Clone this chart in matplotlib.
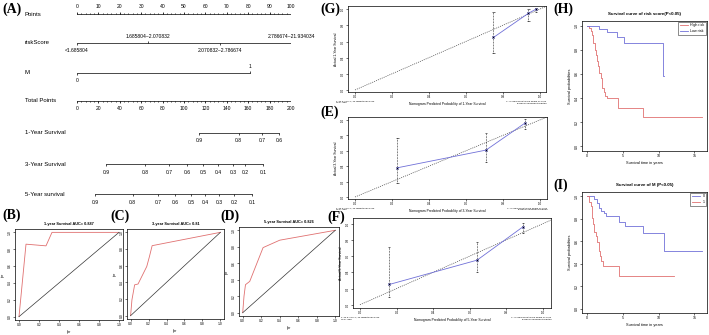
import matplotlib
matplotlib.use('Agg')
import matplotlib.pyplot as plt
import numpy as np

plt.rcParams['font.family'] = ['Liberation Sans', 'DejaVu Sans']

# ---- nomogram (A)
points_ticks = np.arange(0, 101, 10)
risk_levels = ['<1.685804', '1.685804~2.070832', '2.070832~2.786674', '2.786674~21.934034']
risk_points = [0, 33, 67, 100]
m_levels = ['0', '1']
m_points = [0, 81]
total_ticks = np.arange(0, 201, 20)
surv1_prob = [0.9, 0.8, 0.7, 0.6]
surv1_total = [114, 151, 173, 189]
surv3_prob = [0.9, 0.8, 0.7, 0.6, 0.5, 0.4, 0.3, 0.2, 0.1]
surv3_total = [27, 64, 86, 103, 118, 132, 146, 157, 174]
surv5_prob = [0.9, 0.8, 0.7, 0.6, 0.5, 0.4, 0.3, 0.2, 0.1]
surv5_total = [17, 52, 76, 92, 107, 120, 133, 147, 164]

# ---- ROC (B, C, D)
roc_titles = ['1-year Survival AUC= 0.887', '3-year Survival AUC= 0.81', '5-year Survival AUC= 0.826']
roc1_fpr = [0, 0.07, 0.27, 0.33, 1.0]
roc1_tpr = [0, 0.86, 0.84, 1.0, 1.0]
roc3_fpr = [0, 0.015, 0.045, 0.083, 0.18, 0.21, 0.24, 1.0]
roc3_tpr = [0, 0.19, 0.37, 0.38, 0.59, 0.71, 0.84, 1.0]
roc5_fpr = [0, 0.014, 0.03, 0.076, 0.22, 0.40, 1.0]
roc5_tpr = [0, 0.2, 0.34, 0.38, 0.79, 0.88, 1.0]

# ---- calibration (G, E, F)
cal1_pred = [0.75, 0.94, 0.98]
cal1_obs = [0.65, 0.95, 1.0]
cal1_lo = [0.46, 0.86, 0.97]
cal1_hi = [0.96, 1.0, 1.01]
cal3_pred = [0.23, 0.71, 0.92]
cal3_obs = [0.38, 0.61, 0.96]
cal3_lo = [0.18, 0.45, 0.88]
cal3_hi = [0.77, 0.83, 1.02]
cal5_pred = [0.16, 0.64, 0.89]
cal5_obs = [0.25, 0.55, 0.96]
cal5_lo = [0.10, 0.41, 0.89]
cal5_hi = [0.71, 0.77, 1.01]

# ---- Kaplan-Meier (H, I)
high_t = [0, 0.32, 0.56, 0.79, 0.93, 1.1, 1.25, 1.4, 1.57, 1.76, 1.94, 2.08, 2.2, 2.4, 2.6, 2.9, 4.4, 7.9, 16.1]
high_s = [1.0, 0.98, 0.96, 0.92, 0.86, 0.80, 0.76, 0.71, 0.67, 0.61, 0.57, 0.52, 0.48, 0.45, 0.42, 0.40, 0.32, 0.24, 0.24]
low_t = [0, 1.7, 2.9, 4.2, 5.2, 10.6, 10.8]
low_s = [1.0, 0.975, 0.95, 0.91, 0.86, 0.58, 0.58]
m0_t = [0, 1.07, 1.5, 1.77, 2.0, 2.4, 2.7, 4.5, 5.3, 7.9, 10.7, 16.1]
m0_s = [1.0, 0.976, 0.94, 0.90, 0.87, 0.85, 0.83, 0.77, 0.74, 0.67, 0.51, 0.51]
m1_t = [0, 0.28, 0.6, 0.74, 0.84, 1.07, 1.3, 1.44, 1.67, 1.86, 2.0, 2.23, 4.47, 12.1]
m1_s = [1.0, 0.955, 0.916, 0.81, 0.75, 0.68, 0.65, 0.59, 0.51, 0.47, 0.42, 0.38, 0.29, 0.29]

RED = '#e07070'
BLUE = '#7070d8'
W, H = 709, 335
fig = plt.figure(figsize=(W / 100, H / 100), dpi=100)


def box(l, t, r, b):
    return fig.add_axes([l / W, 1 - b / H, (r - l) / W, (b - t) / H])


def r_style(ax, fs=2.6):
    ax.tick_params(direction='out', length=1.5, width=0.4, labelsize=fs, pad=1)
    for s in ax.spines.values():
        s.set_linewidth(0.5)
    plt.setp(ax.get_yticklabels(), rotation=90, va='center')


def letter(x, y, s):
    fig.text(x / W, 1 - y / H, s, family='Liberation Serif', weight='bold',
             fontsize=10, va='center', ha='left')


# ---------------- (A) nomogram
nom = box(77, 0, 291, 210)
nom.set_xlim(0, 100)
nom.set_ylim(210, 0)
nom.axis('off')
lw = 0.5
fs = 3.6
lab_x = -24.3
kw = dict(color='black', lw=lw)

# Points
y = 14
nom.plot([0, 100], [y, y], **kw)
nom.vlines(np.arange(0, 101, 2), y - 1, y, **kw)
nom.vlines(points_ticks, y - 2, y, **kw)
for p in points_ticks:
    nom.text(p, y - 7, str(p), fontsize=fs, ha='center', va='center')
nom.text(lab_x, y, 'Points', fontsize=4.3, va='center')

# riskScore
y = 43
nom.plot([min(risk_points), max(risk_points)], [y, y], **kw)
for i, (lv, p) in enumerate(zip(risk_levels, risk_points)):
    if i % 2 == 0:
        nom.vlines(p, y, y + 2, **kw)
        nom.text(p, y + 8, lv, fontsize=fs, ha='center', va='center')
    else:
        nom.vlines(p, y - 2, y, **kw)
        nom.text(p, y - 6, lv, fontsize=fs, ha='center', va='center')
nom.text(lab_x, y, 'riskScore', fontsize=4.3, va='center')

# M
y = 73
nom.plot([min(m_points), max(m_points)], [y, y], **kw)
nom.vlines(m_points[0], y, y + 2, **kw)
nom.text(m_points[0], y + 8, m_levels[0], fontsize=fs, ha='center', va='center')
nom.vlines(m_points[1], y - 2, y, **kw)
nom.text(m_points[1], y - 6, m_levels[1], fontsize=fs, ha='center', va='center')
nom.text(lab_x, y, 'M', fontsize=4.3, va='center')

# Total Points
y = 101
nom.plot([0, 100], [y, y], **kw)
nom.vlines(np.arange(0, 201, 4) / 2, y, y + 1, **kw)
nom.vlines(total_ticks / 2, y, y + 2, **kw)
for p in total_ticks:
    nom.text(p / 2, y + 8, str(p), fontsize=fs, ha='center', va='center')
nom.text(lab_x, y, 'Total Points', fontsize=4.3, va='center')

# survival rows
rows = [(133, '1-Year Survival', surv1_prob, surv1_total),
        (164, '3-Year Survival', surv3_prob, surv3_total),
        (194, '5-Year survival', surv5_prob, surv5_total)]
for y, name, probs, tots in rows:
    xs = np.array(tots) / 2
    nom.plot([xs.min(), xs.max()], [y, y], **kw)
    nom.vlines(xs, y, y + 2, **kw)
    for pr, xv in zip(probs, xs):
        nom.text(xv, y + 8, f'{pr:.1f}', fontsize=fs, ha='center', va='center')
    nom.text(lab_x, y, name, fontsize=4.3, va='center')

# ---------------- (B)(C)(D) ROC
roc_boxes = [(15, 229, 123, 320), (127, 229, 224, 319), (239, 227, 339, 316)]
roc_data = [(roc1_fpr, roc1_tpr), (roc3_fpr, roc3_tpr), (roc5_fpr, roc5_tpr)]
for bx, (fpr, tpr), title in zip(roc_boxes, roc_data, roc_titles):
    ax = box(*bx)
    ax.plot(fpr, tpr, color=RED, lw=0.6)
    ax.plot([0, 1], [0, 1], color='#333333', lw=0.5)
    ax.set_xlim(-0.04, 1.04)
    ax.set_ylim(-0.04, 1.04)
    ticks = np.arange(0, 1.01, 0.2)
    ax.set_xticks(ticks)
    ax.set_yticks(ticks)
    ax.set_xticklabels([f'{t:.1f}' for t in ticks])
    ax.set_yticklabels([f'{t:.1f}' for t in ticks])
    r_style(ax, 2.4)
    ax.set_title(title, fontsize=2.8, weight='bold', pad=3)
    ax.set_xlabel('fpr', fontsize=2.6, labelpad=1.5)
    ax.set_ylabel('tpr', fontsize=2.6, labelpad=1.5)

# ---------------- (G)(E)(F) calibration
cal_boxes = [(348, 6, 546, 92), (348, 117, 547, 199), (353, 218, 551, 308)]
cal_lims = [((-0.038, 1.035), (-0.025, 1.04)),
            ((-0.038, 1.04), (-0.026, 1.04)),
            ((-0.038, 1.044), (-0.04, 1.07))]
cal_data = [(cal1_pred, cal1_obs, cal1_lo, cal1_hi, '1'),
            (cal3_pred, cal3_obs, cal3_lo, cal3_hi, '3'),
            (cal5_pred, cal5_obs, cal5_lo, cal5_hi, '5')]
for bx, (xl, yl), (pred, obs, lo, hi, yr) in zip(cal_boxes, cal_lims, cal_data):
    ax = box(*bx)
    ax.plot([0, 1.1], [0, 1.1], color='#444444', lw=0.5, ls=(0, (1.5, 1.5)))
    ax.vlines(pred, lo, hi, color='black', lw=0.5, ls=(0, (1, 1.2)))
    ax.hlines(lo + hi, np.array(pred + pred) - 0.006, np.array(pred + pred) + 0.006,
              color='black', lw=0.4)
    ax.plot(pred, obs, color=BLUE, lw=0.6, marker='o', ms=1.6, mfc='none', mew=0.4)
    ax.plot(pred, obs, ls='none', marker='x', ms=1.5, color='black', mew=0.3)
    ax.set_xlim(*xl)
    ax.set_ylim(*yl)
    ticks = np.arange(0, 1.01, 0.2)
    ax.set_xticks(ticks)
    ax.set_yticks(ticks)
    ax.set_xticklabels([f'{t:.1f}' for t in ticks])
    ax.set_yticklabels([f'{t:.1f}' for t in ticks])
    r_style(ax, 2.2)
    ax.set_xlabel(f'Nomogram-Predicted Probability of {yr}-Year Survival', fontsize=2.4, labelpad=1.5)
    ax.set_ylabel(f'Actual {yr}-Year Survival', fontsize=2.4, labelpad=1.5)
    ax.text(-0.06, -0.1, 'n=90 d=23 p=2, 30 subjects per group\nGray: ideal',
            transform=ax.transAxes, fontsize=1.6, va='top', ha='left')
    ax.text(1.0, -0.1, 'X - resampling optimism added, B=1000\nBased on observed-predicted',
            transform=ax.transAxes, fontsize=1.6, va='top', ha='right')

# ---------------- (H)(I) Kaplan-Meier
km_sets = [((582, 21, 707, 151), 'Survival curve of risk score(P<0.05)',
            [(high_t, high_s, RED, 'High risk'), (low_t, low_s, BLUE, 'Low risk')]),
           ((582, 192, 707, 313), 'Survival curve of M (P<0.05)',
            [(m0_t, m0_s, BLUE, '0'), (m1_t, m1_s, RED, '1')])]
for bx, title, curves in km_sets:
    ax = box(*bx)
    for t, s, c, lab in curves:
        ax.step(t, s, where='post', color=c, lw=0.6, label=lab)
    ax.set_xlim(-0.64, 16.74)
    ax.set_ylim(-0.04, 1.04)
    ax.set_xticks([0, 5, 10, 15])
    yt = np.arange(0, 1.01, 0.2)
    ax.set_yticks(yt)
    ax.set_yticklabels([f'{v:.1f}' for v in yt])
    r_style(ax, 2.6)
    ax.set_title(title, fontsize=3.2, weight='bold', pad=4)
    ax.set_xlabel('Survival time in years', fontsize=2.8, labelpad=2)
    ax.set_ylabel('Survival probabilities', fontsize=2.8, labelpad=2)
    leg = ax.legend(loc='upper right', fontsize=2.6, frameon=True, fancybox=False,
                    handlelength=2.2, borderpad=0.5, borderaxespad=0.15)
    leg.get_frame().set_linewidth(0.4)
    leg.get_frame().set_edgecolor('black')

letter(2, 9, '(A)')
letter(2, 215, '(B)')
letter(110, 216, '(C)')
letter(220, 216, '(D)')
letter(320, 9, '(G)')
letter(320, 112, '(E)')
letter(327, 217, '(F)')
letter(553, 9, '(H)')
letter(553, 185, '(I)')

fig.savefig('out.png', dpi=100)
